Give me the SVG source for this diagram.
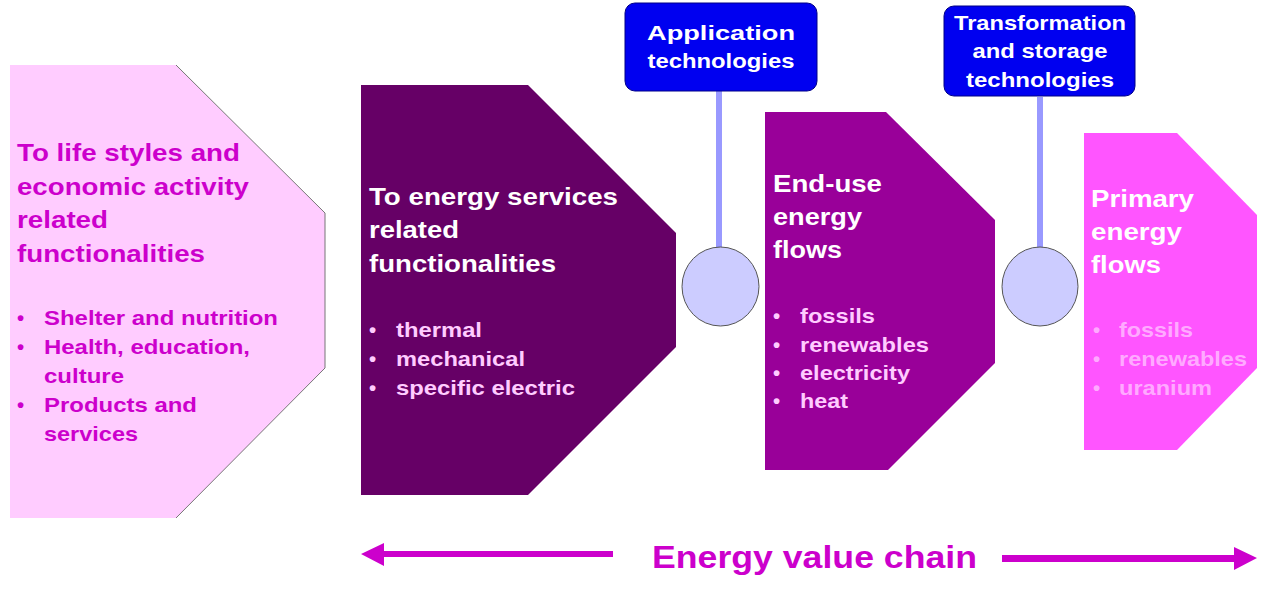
<svg xmlns="http://www.w3.org/2000/svg" width="1281" height="600" viewBox="0 0 1281 600">
<style>
text{font-family:"Liberation Sans",Arial,sans-serif;font-weight:bold}
.h{font-size:24px}
.b{font-size:20.5px}
.t{font-size:21px;fill:#fff;text-anchor:middle}
.mag{fill:#CC00CC}
.wh{fill:#ffffff}
.lp{fill:#FFCCFF}
.fp{fill:#FFAAFF}
.blue{fill:#0000F0;stroke:#000088;stroke-width:1}
.stem{stroke:#9999FF;stroke-width:6}
.ring{fill:#CCCCFF;stroke:#555;stroke-width:1}
.arr{fill:#CC00CC}
</style>
<rect width="1281" height="600" fill="#fff"/>

<g id="node-lifestyles">
<polygon points="10,65 176,65 325,213 325,368 176,518 10,518" fill="#FFCCFF"/>
<polyline points="176,65 325,213 325,368 176,518" fill="none" stroke="#777" stroke-width="1"/>
<text class="h mag" x="17" y="161" textLength="223" lengthAdjust="spacingAndGlyphs">To life styles and</text>
<text class="h mag" x="17" y="195" textLength="232" lengthAdjust="spacingAndGlyphs">economic activity</text>
<text class="h mag" x="17" y="228" textLength="91" lengthAdjust="spacingAndGlyphs">related</text>
<text class="h mag" x="17" y="262" textLength="188" lengthAdjust="spacingAndGlyphs">functionalities</text>
<text class="b mag" x="17" y="325">•</text>
<text class="b mag" x="44" y="325" textLength="234" lengthAdjust="spacingAndGlyphs">Shelter and nutrition</text>
<text class="b mag" x="17" y="354">•</text>
<text class="b mag" x="44" y="354" textLength="206" lengthAdjust="spacingAndGlyphs">Health, education,</text>
<text class="b mag" x="44" y="383" textLength="80" lengthAdjust="spacingAndGlyphs">culture</text>
<text class="b mag" x="17" y="412">•</text>
<text class="b mag" x="44" y="412" textLength="153" lengthAdjust="spacingAndGlyphs">Products and</text>
<text class="b mag" x="44" y="441" textLength="94" lengthAdjust="spacingAndGlyphs">services</text>
</g>

<g id="node-services">
<polygon points="361,85 528,85 676,233 676,347 528,495 361,495" fill="#660066"/>
<text class="h wh" x="369" y="205" textLength="249" lengthAdjust="spacingAndGlyphs">To energy services</text>
<text class="h wh" x="369" y="238" textLength="90" lengthAdjust="spacingAndGlyphs">related</text>
<text class="h wh" x="369" y="272" textLength="187" lengthAdjust="spacingAndGlyphs">functionalities</text>
<text class="b lp" x="369" y="337">•</text>
<text class="b lp" x="396" y="337" textLength="86" lengthAdjust="spacingAndGlyphs">thermal</text>
<text class="b lp" x="369" y="366">•</text>
<text class="b lp" x="396" y="366" textLength="129" lengthAdjust="spacingAndGlyphs">mechanical</text>
<text class="b lp" x="369" y="395">•</text>
<text class="b lp" x="396" y="395" textLength="179" lengthAdjust="spacingAndGlyphs">specific electric</text>
</g>

<g id="node-enduse">
<polygon points="765,112 886,112 995,220 995,363 888,470 765,470" fill="#990099"/>
<text class="h wh" x="773" y="192" textLength="109" lengthAdjust="spacingAndGlyphs">End-use</text>
<text class="h wh" x="773" y="225" textLength="89" lengthAdjust="spacingAndGlyphs">energy</text>
<text class="h wh" x="773" y="258" textLength="69" lengthAdjust="spacingAndGlyphs">flows</text>
<text class="b lp" x="773" y="323">•</text>
<text class="b lp" x="800" y="323" textLength="75" lengthAdjust="spacingAndGlyphs">fossils</text>
<text class="b lp" x="773" y="352">•</text>
<text class="b lp" x="800" y="352" textLength="129" lengthAdjust="spacingAndGlyphs">renewables</text>
<text class="b lp" x="773" y="380">•</text>
<text class="b lp" x="800" y="380" textLength="110" lengthAdjust="spacingAndGlyphs">electricity</text>
<text class="b lp" x="773" y="408">•</text>
<text class="b lp" x="800" y="408" textLength="48" lengthAdjust="spacingAndGlyphs">heat</text>
</g>

<g id="node-primary">
<polygon points="1084,133 1177,133 1257,215 1257,368 1177,450 1084,450" fill="#FF55FF"/>
<text class="h wh" x="1091" y="207" textLength="103" lengthAdjust="spacingAndGlyphs">Primary</text>
<text class="h wh" x="1091" y="240" textLength="91" lengthAdjust="spacingAndGlyphs">energy</text>
<text class="h wh" x="1091" y="273" textLength="70" lengthAdjust="spacingAndGlyphs">flows</text>
<text class="b fp" x="1093" y="337">•</text>
<text class="b fp" x="1119" y="337" textLength="74" lengthAdjust="spacingAndGlyphs">fossils</text>
<text class="b fp" x="1093" y="366">•</text>
<text class="b fp" x="1119" y="366" textLength="128" lengthAdjust="spacingAndGlyphs">renewables</text>
<text class="b fp" x="1093" y="395">•</text>
<text class="b fp" x="1119" y="395" textLength="93" lengthAdjust="spacingAndGlyphs">uranium</text>
</g>

<g id="connectors">
<line class="stem" x1="719" y1="91" x2="719" y2="248"/>
<line class="stem" x1="1040" y1="97" x2="1040" y2="252"/>
<polygon class="arr" points="361,554 384,543 384,551 613,551 613,557 384,557 384,566"/>
<polygon class="arr" points="1002,555 1234,555 1234,547 1257,558 1234,570 1234,562 1002,562"/>
</g>

<g id="node-apptech">
<rect class="blue" x="625" y="3" width="192" height="88" rx="10"/>
<text class="t" x="721" y="40" textLength="148" lengthAdjust="spacingAndGlyphs">Application</text>
<text class="t" x="721" y="68" textLength="147" lengthAdjust="spacingAndGlyphs">technologies</text>
</g>

<g id="node-transtech">
<rect class="blue" x="944" y="6" width="191" height="90" rx="10"/>
<text class="t" x="1040" y="30" textLength="172" lengthAdjust="spacingAndGlyphs">Transformation</text>
<text class="t" x="1040" y="58" textLength="135" lengthAdjust="spacingAndGlyphs">and storage</text>
<text class="t" x="1040" y="87" textLength="148" lengthAdjust="spacingAndGlyphs">technologies</text>
</g>

<g id="node-circle1">
<ellipse class="ring" cx="720.5" cy="286.5" rx="38.5" ry="39.5"/>
</g>
<g id="node-circle2">
<ellipse class="ring" cx="1040" cy="286.5" rx="38" ry="39.5"/>
</g>

<g id="label-chain">
<text x="652" y="568" font-size="32" class="mag" textLength="325" lengthAdjust="spacingAndGlyphs">Energy value chain</text>
</g>
</svg>
